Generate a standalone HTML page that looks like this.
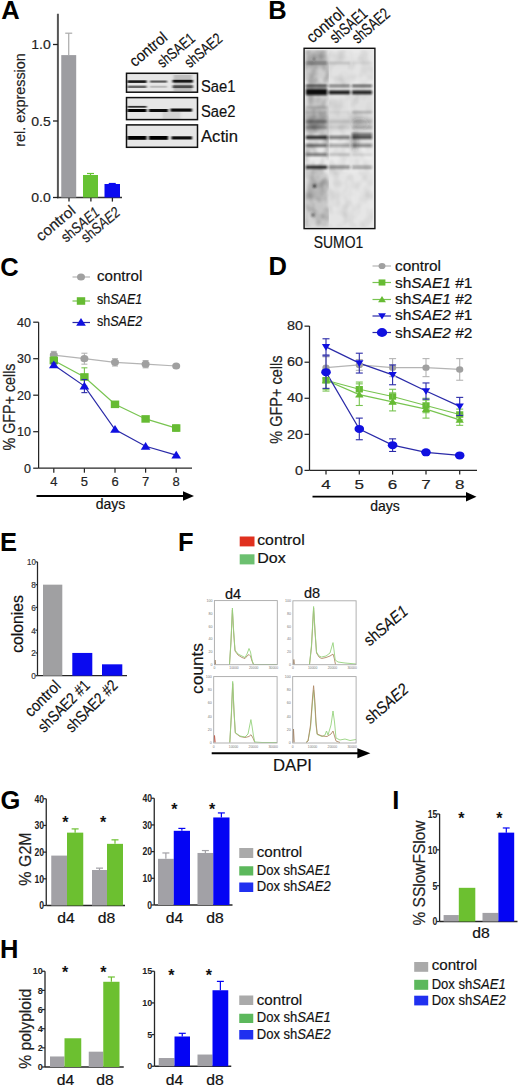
<!DOCTYPE html>
<html><head><meta charset="utf-8"><style>
html,body{margin:0;padding:0;background:#fff;}
body{width:520px;height:1086px;overflow:hidden;}
svg{display:block;font-family:"Liberation Sans", sans-serif;}
</style></head><body>
<svg width="520" height="1086" viewBox="0 0 520 1086">
<defs>
<filter id="blur1" x="-10%" y="-50%" width="120%" height="200%"><feGaussianBlur stdDeviation="1.0 0.55"/></filter>
<filter id="blur2" x="-10%" y="-50%" width="120%" height="200%"><feGaussianBlur stdDeviation="1.3 0.8"/></filter>
<filter id="mottle" x="0" y="0" width="100%" height="100%"><feTurbulence type="fractalNoise" baseFrequency="0.12 0.09" numOctaves="2" seed="3"/><feColorMatrix type="matrix" values="0 0 0 0 0  0 0 0 0 0  0 0 0 0 0  0 0 0 -1.8 1.15"/><feGaussianBlur stdDeviation="1"/></filter>
<filter id="mottle2" x="0" y="0" width="100%" height="100%"><feTurbulence type="fractalNoise" baseFrequency="0.1 0.08" numOctaves="2" seed="7"/><feColorMatrix type="matrix" values="0 0 0 0 0  0 0 0 0 0  0 0 0 0 0  0 0 0 -1.8 1.1"/><feGaussianBlur stdDeviation="1"/></filter>
<filter id="blur3" x="-20%" y="-20%" width="140%" height="140%"><feGaussianBlur stdDeviation="2.2 2.5"/></filter>
</defs>
<rect width="520" height="1086" fill="#fff"/>
<text x="1.2" y="19.3" font-size="25.5" text-anchor="start" font-weight="bold" fill="#000" >A</text>
<line x1="57.9" y1="13.75" x2="57.9" y2="198.2" stroke="#555" stroke-width="2"/>
<line x1="57" y1="197.5" x2="122" y2="197.5" stroke="#333" stroke-width="1.5"/>
<line x1="53" y1="44.5" x2="58" y2="44.5" stroke="#222" stroke-width="1.3"/>
<text x="50.8" y="49.1" font-size="13.5" text-anchor="end" stroke="#222" stroke-width="0.18" fill="#222" textLength="19.5" lengthAdjust="spacingAndGlyphs" >1.0</text>
<line x1="53" y1="121" x2="58" y2="121" stroke="#222" stroke-width="1.3"/>
<text x="50.8" y="125.6" font-size="13.5" text-anchor="end" stroke="#222" stroke-width="0.18" fill="#222" textLength="19.5" lengthAdjust="spacingAndGlyphs" >0.5</text>
<line x1="53" y1="197.5" x2="58" y2="197.5" stroke="#222" stroke-width="1.3"/>
<text x="50.8" y="202.1" font-size="13.5" text-anchor="end" stroke="#222" stroke-width="0.18" fill="#222" textLength="19.5" lengthAdjust="spacingAndGlyphs" >0.0</text>
<line x1="69" y1="197.5" x2="69" y2="201.6" stroke="#222" stroke-width="1.3"/>
<line x1="90.9" y1="197.5" x2="90.9" y2="201.6" stroke="#222" stroke-width="1.3"/>
<line x1="112.4" y1="197.5" x2="112.4" y2="201.6" stroke="#222" stroke-width="1.3"/>
<rect x="61.25" y="55.1" width="14.950000000000003" height="142.4" fill="#9d9da1" />
<line x1="68.725" y1="33.2" x2="68.725" y2="55.1" stroke="#aaa" stroke-width="1.2"/>
<line x1="65.225" y1="33.2" x2="72.225" y2="33.2" stroke="#aaa" stroke-width="1.2"/>
<rect x="83" y="175" width="15" height="22.5" fill="#66c233" />
<line x1="90.5" y1="173.5" x2="90.5" y2="175" stroke="#66c233" stroke-width="1.2"/>
<line x1="87.0" y1="173.5" x2="94.0" y2="173.5" stroke="#66c233" stroke-width="1.2"/>
<rect x="104.5" y="184" width="15.5" height="13.5" fill="#0a0af0" />
<line x1="112.25" y1="183.5" x2="112.25" y2="184" stroke="#0a0af0" stroke-width="1.2"/>
<line x1="108.75" y1="183.5" x2="115.75" y2="183.5" stroke="#0a0af0" stroke-width="1.2"/>
<text x="0" y="0" font-size="14.5" text-anchor="middle" stroke="#222" stroke-width="0.18" fill="#222" textLength="93.7" lengthAdjust="spacingAndGlyphs" transform="translate(24.6,100) rotate(-90)" >rel. expression</text>
<text x="0" y="0" font-size="15" text-anchor="end" stroke="#222" stroke-width="0.18" fill="#222" textLength="46.5" lengthAdjust="spacingAndGlyphs" transform="translate(76.6,212.2) rotate(-40)" >control</text>
<text x="0" y="0" font-size="15" text-anchor="end" stroke="#222" stroke-width="0.18" fill="#222" textLength="45" lengthAdjust="spacingAndGlyphs" transform="translate(100.6,214) rotate(-40)" >sh<tspan font-style="italic">SAE1</tspan></text>
<text x="0" y="0" font-size="15" text-anchor="end" stroke="#222" stroke-width="0.18" fill="#222" textLength="45.5" lengthAdjust="spacingAndGlyphs" transform="translate(121.2,214) rotate(-40)" >sh<tspan font-style="italic">SAE2</tspan></text>
<rect x="126" y="72.6" width="72" height="20.30000000000001" fill="#e6e6e6" />
<rect x="126" y="96.9" width="72" height="23.39999999999999" fill="#e6e6e6" />
<rect x="126" y="124.2" width="72" height="23.799999999999997" fill="#e6e6e6" />
<g filter="url(#blur1)">
<rect x="173.5" y="75" width="18.5" height="16" fill="#666" opacity=".3"/>
<rect x="127.4" y="80.3" width="19.19999999999999" height="2.6" fill="#000" opacity=".9"/>
<rect x="150" y="80.5" width="17" height="2.2" fill="#111" opacity=".65"/>
<rect x="172.5" y="79.8" width="20.5" height="2.8" fill="#000" opacity=".85"/>
<rect x="127.4" y="85.6" width="19.19999999999999" height="2.4" fill="#111" opacity=".6"/>
<rect x="150" y="85.8" width="17" height="2.0" fill="#333" opacity=".25"/>
<rect x="172.5" y="85.3" width="20.5" height="2.8" fill="#111" opacity=".65"/>
<rect x="127.4" y="105.9" width="19.19999999999999" height="1.8" fill="#000" opacity=".8"/>
<rect x="127.4" y="109.0" width="19.19999999999999" height="3.0" fill="#000" opacity="1"/>
<rect x="149" y="109.0" width="19" height="3.0" fill="#000" opacity=".95"/>
<rect x="170.5" y="108.5" width="21.5" height="3.2" fill="#000" opacity=".95"/>
<rect x="162.5" y="112" width="18" height="7" fill="#888" opacity=".2"/>
<rect x="127.4" y="136.0" width="19.19999999999999" height="3.8" fill="#000" opacity="1"/>
<rect x="149" y="136.0" width="19" height="3.8" fill="#000" opacity="1"/>
<rect x="171.5" y="136.3" width="20.5" height="3.2" fill="#000" opacity=".95"/>
</g>
<rect x="126.5" y="73.3" width="71" height="18.900000000000013" fill="none" stroke="#111" stroke-width="1.5"/>
<rect x="126.5" y="97.60000000000001" width="71" height="21.999999999999993" fill="none" stroke="#111" stroke-width="1.5"/>
<rect x="126.5" y="124.9" width="71" height="22.4" fill="none" stroke="#111" stroke-width="1.5"/>
<text x="201" y="91.9" font-size="15.8" text-anchor="start" stroke="#111" stroke-width="0.18" fill="#111" textLength="34.5" lengthAdjust="spacingAndGlyphs" >Sae1</text>
<text x="201" y="117.2" font-size="15.8" text-anchor="start" stroke="#111" stroke-width="0.18" fill="#111" textLength="34.5" lengthAdjust="spacingAndGlyphs" >Sae2</text>
<text x="201" y="141.8" font-size="15.8" text-anchor="start" stroke="#111" stroke-width="0.18" fill="#111" textLength="37" lengthAdjust="spacingAndGlyphs" >Actin</text>
<text x="0" y="0" font-size="15.5" text-anchor="end" stroke="#111" stroke-width="0.18" fill="#111" textLength="44" lengthAdjust="spacingAndGlyphs" transform="translate(168.5,39.2) rotate(-40)" >control</text>
<text x="0" y="0" font-size="15.5" text-anchor="end" stroke="#111" stroke-width="0.18" fill="#111" textLength="44" lengthAdjust="spacingAndGlyphs" transform="translate(196.2,40.2) rotate(-40)" >shSAE1</text>
<text x="0" y="0" font-size="15.5" text-anchor="end" stroke="#111" stroke-width="0.18" fill="#111" textLength="44" lengthAdjust="spacingAndGlyphs" transform="translate(223.5,40.3) rotate(-40)" >shSAE2</text>
<text x="268.2" y="19.2" font-size="25.5" text-anchor="start" font-weight="bold" fill="#000" >B</text>
<rect x="303.4" y="47.6" width="71.2" height="181.7" fill="#ebebeb"/>
<rect x="305" y="50" width="24" height="177" fill="#000" filter="url(#mottle)" opacity="0.3"/>
<rect x="329" y="50" width="44" height="177" fill="#000" filter="url(#mottle2)" opacity="0.13"/>
<g filter="url(#blur3)">
<rect x="305.9" y="53" width="21.30000000000001" height="14" fill="#111" opacity="0.28"/>
<rect x="328.8" y="53" width="21.19999999999999" height="14" fill="#111" opacity="0.05"/>
<rect x="352" y="53" width="20" height="14" fill="#111" opacity="0.03"/>
<rect x="305.9" y="67" width="21.30000000000001" height="14" fill="#111" opacity="0.12"/>
<rect x="328.8" y="67" width="21.19999999999999" height="14" fill="#111" opacity="0.04"/>
<rect x="352" y="67" width="20" height="14" fill="#111" opacity="0.03"/>
<rect x="305.9" y="98" width="21.30000000000001" height="35" fill="#111" opacity="0.16"/>
<rect x="328.8" y="98" width="21.19999999999999" height="35" fill="#111" opacity="0.05"/>
<rect x="352" y="98" width="20" height="35" fill="#111" opacity="0.05"/>
<rect x="305.9" y="117" width="21.30000000000001" height="12" fill="#111" opacity="0.2"/>
<rect x="328.8" y="117" width="21.19999999999999" height="12" fill="#111" opacity="0.06"/>
<rect x="352" y="117" width="20" height="12" fill="#111" opacity="0.1"/>
<rect x="305.9" y="172" width="21.30000000000001" height="55" fill="#111" opacity="0.1"/>
<rect x="328.8" y="172" width="21.19999999999999" height="55" fill="#111" opacity="0.03"/>
<rect x="352" y="172" width="20" height="55" fill="#111" opacity="0.02"/>
<rect x="305.9" y="180" width="21.30000000000001" height="18" fill="#111" opacity="0.08"/>
<rect x="305.9" y="198" width="21.30000000000001" height="16" fill="#111" opacity="0.06"/>
<ellipse cx="355" cy="142" rx="3" ry="10" fill="#222" opacity=".35"/>
<ellipse cx="360" cy="124" rx="8" ry="5" fill="#444" opacity=".15"/>
</g>
<g filter="url(#blur2)">
<rect x="305.9" y="61.8" width="21.30000000000001" height="2.5" fill="#111" opacity="0.4"/>
<rect x="328.8" y="61.8" width="21.19999999999999" height="2.5" fill="#111" opacity="0.15"/>
<rect x="352" y="61.8" width="20" height="2.5" fill="#111" opacity="0.06"/>
<rect x="305.9" y="84.8" width="21.30000000000001" height="2.2" fill="#111" opacity="0.85"/>
<rect x="328.8" y="84.8" width="21.19999999999999" height="2.2" fill="#111" opacity="0.6"/>
<rect x="352" y="84.8" width="20" height="2.2" fill="#111" opacity="0.75"/>
<rect x="305.9" y="88.8" width="21.30000000000001" height="6.4" fill="#111" opacity="1.0"/>
<rect x="328.8" y="90.6" width="21.19999999999999" height="3.6" fill="#111" opacity="1.0"/>
<rect x="352" y="90.6" width="20" height="3.6" fill="#111" opacity="0.95"/>
<rect x="305.9" y="106" width="21.30000000000001" height="3" fill="#111" opacity="0.15"/>
<rect x="305.9" y="111" width="21.30000000000001" height="2.5" fill="#111" opacity="0.08"/>
<rect x="328.8" y="111" width="21.19999999999999" height="2.5" fill="#111" opacity="0.05"/>
<rect x="352" y="111" width="20" height="2.5" fill="#111" opacity="0.22"/>
<rect x="305.9" y="120" width="21.30000000000001" height="3" fill="#111" opacity="0.3"/>
<rect x="328.8" y="120" width="21.19999999999999" height="3" fill="#111" opacity="0.1"/>
<rect x="352" y="120" width="20" height="3" fill="#111" opacity="0.12"/>
<rect x="305.9" y="126" width="21.30000000000001" height="3" fill="#111" opacity="0.22"/>
<rect x="328.8" y="126" width="21.19999999999999" height="3" fill="#111" opacity="0.06"/>
<rect x="352" y="126" width="20" height="3" fill="#111" opacity="0.16"/>
<rect x="352" y="133" width="20" height="2.5" fill="#111" opacity="0.6"/>
<rect x="305.9" y="135.8" width="21.30000000000001" height="3.2" fill="#111" opacity="0.9"/>
<rect x="328.8" y="135.8" width="21.19999999999999" height="3.2" fill="#111" opacity="0.55"/>
<rect x="352" y="135.8" width="20" height="3.2" fill="#111" opacity="0.75"/>
<rect x="305.9" y="144" width="21.30000000000001" height="3" fill="#111" opacity="0.6"/>
<rect x="328.8" y="144" width="21.19999999999999" height="3" fill="#111" opacity="0.35"/>
<rect x="352" y="144" width="20" height="3" fill="#111" opacity="0.45"/>
<rect x="305.9" y="153.2" width="21.30000000000001" height="2.8" fill="#111" opacity="0.55"/>
<rect x="328.8" y="153.2" width="21.19999999999999" height="2.8" fill="#111" opacity="0.18"/>
<rect x="352" y="153.2" width="20" height="2.8" fill="#111" opacity="0.1"/>
<rect x="305.9" y="165.6" width="21.30000000000001" height="3.2" fill="#111" opacity="0.9"/>
<rect x="328.8" y="165.6" width="21.19999999999999" height="3.2" fill="#111" opacity="0.45"/>
<rect x="352" y="165.6" width="20" height="3.2" fill="#111" opacity="0.35"/>
<circle cx="314.5" cy="186" r="1.5" fill="#222"/>
<circle cx="313" cy="215" r="1.8" fill="#333" opacity=".7"/>
<circle cx="314" cy="59" r="1.3" fill="#333" opacity=".6"/>
</g>
<rect x="304.1" y="48.3" width="70.8" height="180.3" fill="none" stroke="#111" stroke-width="1.4"/>
<text x="338.5" y="248" font-size="16.5" text-anchor="middle" stroke="#111" stroke-width="0.18" fill="#111" textLength="49.5" lengthAdjust="spacingAndGlyphs" >SUMO1</text>
<text x="0" y="0" font-size="16.5" text-anchor="end" stroke="#111" stroke-width="0.18" fill="#111" textLength="44" lengthAdjust="spacingAndGlyphs" transform="translate(345.5,15) rotate(-41)" >control</text>
<text x="0" y="0" font-size="16.5" text-anchor="end" stroke="#111" stroke-width="0.18" fill="#111" textLength="44" lengthAdjust="spacingAndGlyphs" transform="translate(368.7,15.2) rotate(-41)" >shSAE1</text>
<text x="0" y="0" font-size="16.5" text-anchor="end" stroke="#111" stroke-width="0.18" fill="#111" textLength="44" lengthAdjust="spacingAndGlyphs" transform="translate(391,15.5) rotate(-41)" >shSAE2</text>
<text x="0.3" y="275.5" font-size="25.5" text-anchor="start" font-weight="bold" fill="#000" >C</text>
<line x1="72.5" y1="277" x2="90" y2="277" stroke="#b4b4b4" stroke-width="1.2"/>
<ellipse cx="81" cy="277" rx="4" ry="3.6" fill="#a0a0a0"/>
<line x1="72.5" y1="301" x2="90" y2="301" stroke="#78c450" stroke-width="1.2"/>
<rect x="76.8" y="297.22" width="8.4" height="7.5600000000000005" fill="#66bb33" />
<line x1="72.5" y1="322.5" x2="90" y2="322.5" stroke="#2a2aa8" stroke-width="1.2"/>
<polygon points="76.17,325.86 85.83,325.86 81,318.09" fill="#1010e0"/>
<text x="97" y="281.2" font-size="14.5" text-anchor="start" stroke="#111" stroke-width="0.18" fill="#111" textLength="45.3" lengthAdjust="spacingAndGlyphs" >control</text>
<text x="97" y="303.6" font-size="14.5" text-anchor="start" stroke="#111" stroke-width="0.18" fill="#111" textLength="45.3" lengthAdjust="spacingAndGlyphs" >sh<tspan font-style="italic">SAE1</tspan></text>
<text x="97" y="325.6" font-size="14.5" text-anchor="start" stroke="#111" stroke-width="0.18" fill="#111" textLength="45.3" lengthAdjust="spacingAndGlyphs" >sh<tspan font-style="italic">SAE2</tspan></text>
<line x1="38.6" y1="322.2" x2="38.6" y2="468.2" stroke="#262626" stroke-width="1.25"/>
<line x1="38.6" y1="468.2" x2="192" y2="468.2" stroke="#262626" stroke-width="1.25"/>
<line x1="33.2" y1="468.2" x2="38.6" y2="468.2" stroke="#262626" stroke-width="1.25"/>
<text x="31" y="472.5" font-size="12.5" text-anchor="end" stroke="#222" stroke-width="0.18" fill="#222" >0</text>
<line x1="33.2" y1="431.7" x2="38.6" y2="431.7" stroke="#262626" stroke-width="1.25"/>
<text x="31" y="436.0" font-size="12.5" text-anchor="end" stroke="#222" stroke-width="0.18" fill="#222" >10</text>
<line x1="33.2" y1="395.2" x2="38.6" y2="395.2" stroke="#262626" stroke-width="1.25"/>
<text x="31" y="399.5" font-size="12.5" text-anchor="end" stroke="#222" stroke-width="0.18" fill="#222" >20</text>
<line x1="33.2" y1="358.7" x2="38.6" y2="358.7" stroke="#262626" stroke-width="1.25"/>
<text x="31" y="363.0" font-size="12.5" text-anchor="end" stroke="#222" stroke-width="0.18" fill="#222" >30</text>
<line x1="33.2" y1="322.2" x2="38.6" y2="322.2" stroke="#262626" stroke-width="1.25"/>
<text x="31" y="326.5" font-size="12.5" text-anchor="end" stroke="#222" stroke-width="0.18" fill="#222" >40</text>
<line x1="53.8" y1="468.2" x2="53.8" y2="472.7" stroke="#262626" stroke-width="1.25"/>
<text x="53.8" y="485.7" font-size="13" text-anchor="middle" stroke="#222" stroke-width="0.18" fill="#222" >4</text>
<line x1="84.4" y1="468.2" x2="84.4" y2="472.7" stroke="#262626" stroke-width="1.25"/>
<text x="84.4" y="485.7" font-size="13" text-anchor="middle" stroke="#222" stroke-width="0.18" fill="#222" >5</text>
<line x1="115" y1="468.2" x2="115" y2="472.7" stroke="#262626" stroke-width="1.25"/>
<text x="115" y="485.7" font-size="13" text-anchor="middle" stroke="#222" stroke-width="0.18" fill="#222" >6</text>
<line x1="145.6" y1="468.2" x2="145.6" y2="472.7" stroke="#262626" stroke-width="1.25"/>
<text x="145.6" y="485.7" font-size="13" text-anchor="middle" stroke="#222" stroke-width="0.18" fill="#222" >7</text>
<line x1="176.2" y1="468.2" x2="176.2" y2="472.7" stroke="#262626" stroke-width="1.25"/>
<text x="176.2" y="485.7" font-size="13" text-anchor="middle" stroke="#222" stroke-width="0.18" fill="#222" >8</text>
<line x1="36.5" y1="496" x2="184" y2="496" stroke="#000" stroke-width="1.8"/>
<polygon points="183,491.2 194,496 183,500.8" fill="#000"/>
<text x="110.5" y="509" font-size="14" text-anchor="middle" stroke="#111" stroke-width="0.18" fill="#111" >days</text>
<text x="0" y="0" font-size="14.3" text-anchor="middle" stroke="#222" stroke-width="0.18" fill="#222" textLength="87" lengthAdjust="spacingAndGlyphs" transform="translate(14.7,407) scale(1.12,1) rotate(-90)" >% GFP+ cells</text>
<polyline points="53.8,355.05 84.4,358.70 115,362.35 145.6,364.18 176.2,366.00" fill="none" stroke="#b4b4b4" stroke-width="1.2"/>
<polyline points="53.8,360.52 84.4,376.95 115,404.32 145.6,418.93 176.2,428.05" fill="none" stroke="#78c450" stroke-width="1.2"/>
<polyline points="53.8,364.90 84.4,386.07 115,429.51 145.6,446.30 176.2,455.06" fill="none" stroke="#2a2aa8" stroke-width="1.2"/>
<line x1="53.8" y1="351.40000000000003" x2="53.8" y2="358.7" stroke="#b4b4b4" stroke-width="1.1"/>
<line x1="50.8" y1="351.40000000000003" x2="56.8" y2="351.40000000000003" stroke="#b4b4b4" stroke-width="1.1"/>
<line x1="50.8" y1="358.7" x2="56.8" y2="358.7" stroke="#b4b4b4" stroke-width="1.1"/>
<ellipse cx="53.8" cy="355.05" rx="4" ry="3.6" fill="#a0a0a0"/>
<line x1="84.4" y1="353.22499999999997" x2="84.4" y2="364.175" stroke="#b4b4b4" stroke-width="1.1"/>
<line x1="81.4" y1="353.22499999999997" x2="87.4" y2="353.22499999999997" stroke="#b4b4b4" stroke-width="1.1"/>
<line x1="81.4" y1="364.175" x2="87.4" y2="364.175" stroke="#b4b4b4" stroke-width="1.1"/>
<ellipse cx="84.4" cy="358.7" rx="4" ry="3.6" fill="#a0a0a0"/>
<line x1="115" y1="358.70000000000005" x2="115" y2="366.0" stroke="#b4b4b4" stroke-width="1.1"/>
<line x1="112" y1="358.70000000000005" x2="118" y2="358.70000000000005" stroke="#b4b4b4" stroke-width="1.1"/>
<line x1="112" y1="366.0" x2="118" y2="366.0" stroke="#b4b4b4" stroke-width="1.1"/>
<ellipse cx="115" cy="362.35" rx="4" ry="3.6" fill="#a0a0a0"/>
<line x1="145.6" y1="360.52500000000003" x2="145.6" y2="367.825" stroke="#b4b4b4" stroke-width="1.1"/>
<line x1="142.6" y1="360.52500000000003" x2="148.6" y2="360.52500000000003" stroke="#b4b4b4" stroke-width="1.1"/>
<line x1="142.6" y1="367.825" x2="148.6" y2="367.825" stroke="#b4b4b4" stroke-width="1.1"/>
<ellipse cx="145.6" cy="364.175" rx="4" ry="3.6" fill="#a0a0a0"/>
<ellipse cx="176.2" cy="366.0" rx="4" ry="3.6" fill="#a0a0a0"/>
<line x1="53.8" y1="356.875" x2="53.8" y2="364.17499999999995" stroke="#78c450" stroke-width="1.1"/>
<line x1="50.8" y1="356.875" x2="56.8" y2="356.875" stroke="#78c450" stroke-width="1.1"/>
<line x1="50.8" y1="364.17499999999995" x2="56.8" y2="364.17499999999995" stroke="#78c450" stroke-width="1.1"/>
<rect x="49.599999999999994" y="356.745" width="8.4" height="7.5600000000000005" fill="#66bb33" />
<line x1="84.4" y1="367.825" x2="84.4" y2="386.075" stroke="#78c450" stroke-width="1.1"/>
<line x1="81.4" y1="367.825" x2="87.4" y2="367.825" stroke="#78c450" stroke-width="1.1"/>
<line x1="81.4" y1="386.075" x2="87.4" y2="386.075" stroke="#78c450" stroke-width="1.1"/>
<rect x="80.2" y="373.17" width="8.4" height="7.5600000000000005" fill="#66bb33" />
<rect x="110.8" y="400.545" width="8.4" height="7.5600000000000005" fill="#66bb33" />
<rect x="141.4" y="415.14500000000004" width="8.4" height="7.5600000000000005" fill="#66bb33" />
<line x1="176.2" y1="425.13" x2="176.2" y2="430.97" stroke="#78c450" stroke-width="1.1"/>
<line x1="173.2" y1="425.13" x2="179.2" y2="425.13" stroke="#78c450" stroke-width="1.1"/>
<line x1="173.2" y1="430.97" x2="179.2" y2="430.97" stroke="#78c450" stroke-width="1.1"/>
<rect x="172.0" y="424.27000000000004" width="8.4" height="7.5600000000000005" fill="#66bb33" />
<line x1="53.8" y1="363.08" x2="53.8" y2="366.72999999999996" stroke="#2a2aa8" stroke-width="1.1"/>
<line x1="50.8" y1="363.08" x2="56.8" y2="363.08" stroke="#2a2aa8" stroke-width="1.1"/>
<line x1="50.8" y1="366.72999999999996" x2="56.8" y2="366.72999999999996" stroke="#2a2aa8" stroke-width="1.1"/>
<polygon points="48.97,368.265 58.629999999999995,368.265 53.8,360.49499999999995" fill="#1010e0"/>
<line x1="84.4" y1="379.505" x2="84.4" y2="392.645" stroke="#2a2aa8" stroke-width="1.1"/>
<line x1="81.4" y1="379.505" x2="87.4" y2="379.505" stroke="#2a2aa8" stroke-width="1.1"/>
<line x1="81.4" y1="392.645" x2="87.4" y2="392.645" stroke="#2a2aa8" stroke-width="1.1"/>
<polygon points="79.57000000000001,389.435 89.23,389.435 84.4,381.66499999999996" fill="#1010e0"/>
<polygon points="110.17,432.87 119.83,432.87 115,425.09999999999997" fill="#1010e0"/>
<polygon points="140.76999999999998,449.66 150.43,449.66 145.6,441.89" fill="#1010e0"/>
<polygon points="171.36999999999998,458.42 181.03,458.42 176.2,450.65" fill="#1010e0"/>
<text x="268.6" y="275" font-size="25.5" text-anchor="start" font-weight="bold" fill="#000" >D</text>
<line x1="372.5" y1="266" x2="391" y2="266" stroke="#b4b4b4" stroke-width="1.2"/>
<ellipse cx="382" cy="266" rx="3.5" ry="3.1" fill="#a0a0a0"/>
<text x="395" y="270.5" font-size="14.5" text-anchor="start" stroke="#111" stroke-width="0.18" fill="#111" textLength="46" lengthAdjust="spacingAndGlyphs" >control</text>
<line x1="372.5" y1="282.5" x2="391" y2="282.5" stroke="#78c450" stroke-width="1.2"/>
<rect x="378.6" y="279.44" width="6.8" height="6.12" fill="#66bb33" />
<text x="395" y="287.5" font-size="14.5" text-anchor="start" stroke="#111" stroke-width="0.18" fill="#111" textLength="77.5" lengthAdjust="spacingAndGlyphs" >sh<tspan font-style="italic">SAE1</tspan> #1</text>
<line x1="372.5" y1="299.5" x2="391" y2="299.5" stroke="#78c450" stroke-width="1.2"/>
<polygon points="378.09,302.22 385.91,302.22 382,295.93" fill="#66bb33"/>
<text x="395" y="303.8" font-size="14.5" text-anchor="start" stroke="#111" stroke-width="0.18" fill="#111" textLength="77.5" lengthAdjust="spacingAndGlyphs" >sh<tspan font-style="italic">SAE1</tspan> #2</text>
<line x1="372.5" y1="316" x2="391" y2="316" stroke="#2a2aa8" stroke-width="1.2"/>
<polygon points="378.09,313.28 385.91,313.28 382,319.57" fill="#1010e0"/>
<text x="395" y="320.2" font-size="14.5" text-anchor="start" stroke="#111" stroke-width="0.18" fill="#111" textLength="77.5" lengthAdjust="spacingAndGlyphs" >sh<tspan font-style="italic">SAE2</tspan> #1</text>
<line x1="372.5" y1="332.5" x2="391" y2="332.5" stroke="#2a2aa8" stroke-width="1.2"/>
<ellipse cx="382" cy="332.5" rx="5.2" ry="4.4" fill="#1010e0"/>
<text x="395" y="337.5" font-size="14.5" text-anchor="start" stroke="#111" stroke-width="0.18" fill="#111" textLength="77.5" lengthAdjust="spacingAndGlyphs" >sh<tspan font-style="italic">SAE2</tspan> #2</text>
<line x1="309.5" y1="326" x2="309.5" y2="470.4" stroke="#262626" stroke-width="1.25"/>
<line x1="309.5" y1="470.4" x2="477" y2="470.4" stroke="#262626" stroke-width="1.25"/>
<line x1="304.5" y1="470.4" x2="309.5" y2="470.4" stroke="#262626" stroke-width="1.25"/>
<text x="303" y="474.59999999999997" font-size="12" text-anchor="end" stroke="#222" stroke-width="0.18" fill="#222" textLength="8" lengthAdjust="spacingAndGlyphs" >0</text>
<line x1="304.5" y1="434.34" x2="309.5" y2="434.34" stroke="#262626" stroke-width="1.25"/>
<text x="303" y="438.53999999999996" font-size="12" text-anchor="end" stroke="#222" stroke-width="0.18" fill="#222" textLength="16" lengthAdjust="spacingAndGlyphs" >20</text>
<line x1="304.5" y1="398.28" x2="309.5" y2="398.28" stroke="#262626" stroke-width="1.25"/>
<text x="303" y="402.47999999999996" font-size="12" text-anchor="end" stroke="#222" stroke-width="0.18" fill="#222" textLength="16" lengthAdjust="spacingAndGlyphs" >40</text>
<line x1="304.5" y1="362.21999999999997" x2="309.5" y2="362.21999999999997" stroke="#262626" stroke-width="1.25"/>
<text x="303" y="366.41999999999996" font-size="12" text-anchor="end" stroke="#222" stroke-width="0.18" fill="#222" textLength="16" lengthAdjust="spacingAndGlyphs" >60</text>
<line x1="304.5" y1="326.15999999999997" x2="309.5" y2="326.15999999999997" stroke="#262626" stroke-width="1.25"/>
<text x="303" y="330.35999999999996" font-size="12" text-anchor="end" stroke="#222" stroke-width="0.18" fill="#222" textLength="16" lengthAdjust="spacingAndGlyphs" >80</text>
<line x1="326" y1="470.4" x2="326" y2="474.59999999999997" stroke="#262626" stroke-width="1.25"/>
<text x="326" y="488.5" font-size="13.3" text-anchor="middle" stroke="#222" stroke-width="0.18" fill="#222" textLength="9.5" lengthAdjust="spacingAndGlyphs" >4</text>
<line x1="359.3" y1="470.4" x2="359.3" y2="474.59999999999997" stroke="#262626" stroke-width="1.25"/>
<text x="359.3" y="488.5" font-size="13.3" text-anchor="middle" stroke="#222" stroke-width="0.18" fill="#222" textLength="9.5" lengthAdjust="spacingAndGlyphs" >5</text>
<line x1="392.6" y1="470.4" x2="392.6" y2="474.59999999999997" stroke="#262626" stroke-width="1.25"/>
<text x="392.6" y="488.5" font-size="13.3" text-anchor="middle" stroke="#222" stroke-width="0.18" fill="#222" textLength="9.5" lengthAdjust="spacingAndGlyphs" >6</text>
<line x1="426" y1="470.4" x2="426" y2="474.59999999999997" stroke="#262626" stroke-width="1.25"/>
<text x="426" y="488.5" font-size="13.3" text-anchor="middle" stroke="#222" stroke-width="0.18" fill="#222" textLength="9.5" lengthAdjust="spacingAndGlyphs" >7</text>
<line x1="459.7" y1="470.4" x2="459.7" y2="474.59999999999997" stroke="#262626" stroke-width="1.25"/>
<text x="459.7" y="488.5" font-size="13.3" text-anchor="middle" stroke="#222" stroke-width="0.18" fill="#222" textLength="9.5" lengthAdjust="spacingAndGlyphs" >8</text>
<line x1="312.5" y1="496.7" x2="467.0" y2="496.7" stroke="#000" stroke-width="1.8"/>
<polygon points="466.0,491.9 476.5,496.7 466.0,501.5" fill="#000"/>
<text x="385" y="511" font-size="14" text-anchor="middle" stroke="#111" stroke-width="0.18" fill="#111" >days</text>
<text x="0" y="0" font-size="14.5" text-anchor="middle" stroke="#222" stroke-width="0.18" fill="#222" textLength="88.2" lengthAdjust="spacingAndGlyphs" transform="translate(282,399.6) scale(1.08,1) rotate(-90)" >% GFP+ cells</text>
<polyline points="326,367.63 359.3,364.92 392.6,367.63 426,367.63 459.7,369.43" fill="none" stroke="#b4b4b4" stroke-width="1.2"/>
<polyline points="326,380.25 359.3,389.26 392.6,396.48 426,405.49 459.7,414.51" fill="none" stroke="#78c450" stroke-width="1.2"/>
<polyline points="326,380.25 359.3,394.67 392.6,401.89 426,409.10 459.7,419.92" fill="none" stroke="#78c450" stroke-width="1.2"/>
<polyline points="326,346.89 359.3,363.12 392.6,374.84 426,391.07 459.7,406.39" fill="none" stroke="#2a2aa8" stroke-width="1.2"/>
<polyline points="326,372.14 359.3,428.93 392.6,445.16 426,452.37 459.7,455.44" fill="none" stroke="#2a2aa8" stroke-width="1.2"/>
<line x1="326" y1="356.811" x2="326" y2="378.44699999999995" stroke="#b4b4b4" stroke-width="1.1"/>
<line x1="322.5" y1="356.811" x2="329.5" y2="356.811" stroke="#b4b4b4" stroke-width="1.1"/>
<line x1="322.5" y1="378.44699999999995" x2="329.5" y2="378.44699999999995" stroke="#b4b4b4" stroke-width="1.1"/>
<ellipse cx="326" cy="367.62899999999996" rx="3.6" ry="3.2" fill="#a0a0a0"/>
<line x1="359.3" y1="359.5155" x2="359.3" y2="370.33349999999996" stroke="#b4b4b4" stroke-width="1.1"/>
<line x1="355.8" y1="359.5155" x2="362.8" y2="359.5155" stroke="#b4b4b4" stroke-width="1.1"/>
<line x1="355.8" y1="370.33349999999996" x2="362.8" y2="370.33349999999996" stroke="#b4b4b4" stroke-width="1.1"/>
<ellipse cx="359.3" cy="364.92449999999997" rx="3.6" ry="3.2" fill="#a0a0a0"/>
<line x1="392.6" y1="358.614" x2="392.6" y2="376.64399999999995" stroke="#b4b4b4" stroke-width="1.1"/>
<line x1="389.1" y1="358.614" x2="396.1" y2="358.614" stroke="#b4b4b4" stroke-width="1.1"/>
<line x1="389.1" y1="376.64399999999995" x2="396.1" y2="376.64399999999995" stroke="#b4b4b4" stroke-width="1.1"/>
<ellipse cx="392.6" cy="367.62899999999996" rx="3.6" ry="3.2" fill="#a0a0a0"/>
<line x1="426" y1="358.614" x2="426" y2="376.64399999999995" stroke="#b4b4b4" stroke-width="1.1"/>
<line x1="422.5" y1="358.614" x2="429.5" y2="358.614" stroke="#b4b4b4" stroke-width="1.1"/>
<line x1="422.5" y1="376.64399999999995" x2="429.5" y2="376.64399999999995" stroke="#b4b4b4" stroke-width="1.1"/>
<ellipse cx="426" cy="367.62899999999996" rx="3.6" ry="3.2" fill="#a0a0a0"/>
<line x1="459.7" y1="358.61400000000003" x2="459.7" y2="380.25" stroke="#b4b4b4" stroke-width="1.1"/>
<line x1="456.2" y1="358.61400000000003" x2="463.2" y2="358.61400000000003" stroke="#b4b4b4" stroke-width="1.1"/>
<line x1="456.2" y1="380.25" x2="463.2" y2="380.25" stroke="#b4b4b4" stroke-width="1.1"/>
<ellipse cx="459.7" cy="369.432" rx="3.6" ry="3.2" fill="#a0a0a0"/>
<line x1="326" y1="371.235" x2="326" y2="389.265" stroke="#78c450" stroke-width="1.1"/>
<line x1="322.5" y1="371.235" x2="329.5" y2="371.235" stroke="#78c450" stroke-width="1.1"/>
<line x1="322.5" y1="389.265" x2="329.5" y2="389.265" stroke="#78c450" stroke-width="1.1"/>
<rect x="322.4" y="377.01" width="7.2" height="6.48" fill="#66bb33" />
<line x1="359.3" y1="382.053" x2="359.3" y2="396.477" stroke="#78c450" stroke-width="1.1"/>
<line x1="355.8" y1="382.053" x2="362.8" y2="382.053" stroke="#78c450" stroke-width="1.1"/>
<line x1="355.8" y1="396.477" x2="362.8" y2="396.477" stroke="#78c450" stroke-width="1.1"/>
<rect x="355.7" y="386.025" width="7.2" height="6.48" fill="#66bb33" />
<line x1="392.6" y1="389.265" x2="392.6" y2="403.68899999999996" stroke="#78c450" stroke-width="1.1"/>
<line x1="389.1" y1="389.265" x2="396.1" y2="389.265" stroke="#78c450" stroke-width="1.1"/>
<line x1="389.1" y1="403.68899999999996" x2="396.1" y2="403.68899999999996" stroke="#78c450" stroke-width="1.1"/>
<rect x="389.0" y="393.23699999999997" width="7.2" height="6.48" fill="#66bb33" />
<line x1="426" y1="398.28" x2="426" y2="412.70399999999995" stroke="#78c450" stroke-width="1.1"/>
<line x1="422.5" y1="398.28" x2="429.5" y2="398.28" stroke="#78c450" stroke-width="1.1"/>
<line x1="422.5" y1="412.70399999999995" x2="429.5" y2="412.70399999999995" stroke="#78c450" stroke-width="1.1"/>
<rect x="422.4" y="402.25199999999995" width="7.2" height="6.48" fill="#66bb33" />
<line x1="459.7" y1="409.09799999999996" x2="459.7" y2="419.91599999999994" stroke="#78c450" stroke-width="1.1"/>
<line x1="456.2" y1="409.09799999999996" x2="463.2" y2="409.09799999999996" stroke="#78c450" stroke-width="1.1"/>
<line x1="456.2" y1="419.91599999999994" x2="463.2" y2="419.91599999999994" stroke="#78c450" stroke-width="1.1"/>
<rect x="456.09999999999997" y="411.26699999999994" width="7.2" height="6.48" fill="#66bb33" />
<line x1="326" y1="369.432" x2="326" y2="391.068" stroke="#78c450" stroke-width="1.1"/>
<line x1="322.5" y1="369.432" x2="329.5" y2="369.432" stroke="#78c450" stroke-width="1.1"/>
<line x1="322.5" y1="391.068" x2="329.5" y2="391.068" stroke="#78c450" stroke-width="1.1"/>
<polygon points="321.86,383.13 330.14,383.13 326,376.47" fill="#66bb33"/>
<line x1="359.3" y1="383.856" x2="359.3" y2="405.49199999999996" stroke="#78c450" stroke-width="1.1"/>
<line x1="355.8" y1="383.856" x2="362.8" y2="383.856" stroke="#78c450" stroke-width="1.1"/>
<line x1="355.8" y1="405.49199999999996" x2="362.8" y2="405.49199999999996" stroke="#78c450" stroke-width="1.1"/>
<polygon points="355.16,397.554 363.44,397.554 359.3,390.894" fill="#66bb33"/>
<line x1="392.6" y1="392.871" x2="392.6" y2="410.90099999999995" stroke="#78c450" stroke-width="1.1"/>
<line x1="389.1" y1="392.871" x2="396.1" y2="392.871" stroke="#78c450" stroke-width="1.1"/>
<line x1="389.1" y1="410.90099999999995" x2="396.1" y2="410.90099999999995" stroke="#78c450" stroke-width="1.1"/>
<polygon points="388.46000000000004,404.76599999999996 396.74,404.76599999999996 392.6,398.106" fill="#66bb33"/>
<line x1="426" y1="400.08299999999997" x2="426" y2="418.11299999999994" stroke="#78c450" stroke-width="1.1"/>
<line x1="422.5" y1="400.08299999999997" x2="429.5" y2="400.08299999999997" stroke="#78c450" stroke-width="1.1"/>
<line x1="422.5" y1="418.11299999999994" x2="429.5" y2="418.11299999999994" stroke="#78c450" stroke-width="1.1"/>
<polygon points="421.86,411.97799999999995 430.14,411.97799999999995 426,405.318" fill="#66bb33"/>
<line x1="459.7" y1="414.507" x2="459.7" y2="425.325" stroke="#78c450" stroke-width="1.1"/>
<line x1="456.2" y1="414.507" x2="463.2" y2="414.507" stroke="#78c450" stroke-width="1.1"/>
<line x1="456.2" y1="425.325" x2="463.2" y2="425.325" stroke="#78c450" stroke-width="1.1"/>
<polygon points="455.56,422.796 463.84,422.796 459.7,416.136" fill="#66bb33"/>
<line x1="326" y1="338.781" x2="326" y2="355.008" stroke="#2a2aa8" stroke-width="1.1"/>
<line x1="322.5" y1="338.781" x2="329.5" y2="338.781" stroke="#2a2aa8" stroke-width="1.1"/>
<line x1="322.5" y1="355.008" x2="329.5" y2="355.008" stroke="#2a2aa8" stroke-width="1.1"/>
<polygon points="321.86,344.0145 330.14,344.0145 326,350.67449999999997" fill="#1010e0"/>
<line x1="359.3" y1="353.205" x2="359.3" y2="373.03799999999995" stroke="#2a2aa8" stroke-width="1.1"/>
<line x1="355.8" y1="353.205" x2="362.8" y2="353.205" stroke="#2a2aa8" stroke-width="1.1"/>
<line x1="355.8" y1="373.03799999999995" x2="362.8" y2="373.03799999999995" stroke="#2a2aa8" stroke-width="1.1"/>
<polygon points="355.16,360.2415 363.44,360.2415 359.3,366.90149999999994" fill="#1010e0"/>
<line x1="392.6" y1="364.9245" x2="392.6" y2="384.7575" stroke="#2a2aa8" stroke-width="1.1"/>
<line x1="389.1" y1="364.9245" x2="396.1" y2="364.9245" stroke="#2a2aa8" stroke-width="1.1"/>
<line x1="389.1" y1="384.7575" x2="396.1" y2="384.7575" stroke="#2a2aa8" stroke-width="1.1"/>
<polygon points="388.46000000000004,371.961 396.74,371.961 392.6,378.621" fill="#1010e0"/>
<line x1="426" y1="382.9545" x2="426" y2="399.18149999999997" stroke="#2a2aa8" stroke-width="1.1"/>
<line x1="422.5" y1="382.9545" x2="429.5" y2="382.9545" stroke="#2a2aa8" stroke-width="1.1"/>
<line x1="422.5" y1="399.18149999999997" x2="429.5" y2="399.18149999999997" stroke="#2a2aa8" stroke-width="1.1"/>
<polygon points="421.86,388.188 430.14,388.188 426,394.84799999999996" fill="#1010e0"/>
<line x1="459.7" y1="397.3785" x2="459.7" y2="415.40849999999995" stroke="#2a2aa8" stroke-width="1.1"/>
<line x1="456.2" y1="397.3785" x2="463.2" y2="397.3785" stroke="#2a2aa8" stroke-width="1.1"/>
<line x1="456.2" y1="415.40849999999995" x2="463.2" y2="415.40849999999995" stroke="#2a2aa8" stroke-width="1.1"/>
<polygon points="455.56,403.51349999999996 463.84,403.51349999999996 459.7,410.17349999999993" fill="#1010e0"/>
<line x1="326" y1="355.9095" x2="326" y2="388.36349999999993" stroke="#2a2aa8" stroke-width="1.1"/>
<line x1="322.5" y1="355.9095" x2="329.5" y2="355.9095" stroke="#2a2aa8" stroke-width="1.1"/>
<line x1="322.5" y1="388.36349999999993" x2="329.5" y2="388.36349999999993" stroke="#2a2aa8" stroke-width="1.1"/>
<ellipse cx="326" cy="372.13649999999996" rx="4.8" ry="4.0" fill="#1010e0"/>
<line x1="359.3" y1="418.113" x2="359.3" y2="439.74899999999997" stroke="#2a2aa8" stroke-width="1.1"/>
<line x1="355.8" y1="418.113" x2="362.8" y2="418.113" stroke="#2a2aa8" stroke-width="1.1"/>
<line x1="355.8" y1="439.74899999999997" x2="362.8" y2="439.74899999999997" stroke="#2a2aa8" stroke-width="1.1"/>
<ellipse cx="359.3" cy="428.931" rx="4.8" ry="4.0" fill="#1010e0"/>
<line x1="392.6" y1="438.84749999999997" x2="392.6" y2="451.46849999999995" stroke="#2a2aa8" stroke-width="1.1"/>
<line x1="389.1" y1="438.84749999999997" x2="396.1" y2="438.84749999999997" stroke="#2a2aa8" stroke-width="1.1"/>
<line x1="389.1" y1="451.46849999999995" x2="396.1" y2="451.46849999999995" stroke="#2a2aa8" stroke-width="1.1"/>
<ellipse cx="392.6" cy="445.15799999999996" rx="4.8" ry="4.0" fill="#1010e0"/>
<line x1="426" y1="450.567" x2="426" y2="454.173" stroke="#2a2aa8" stroke-width="1.1"/>
<line x1="422.5" y1="450.567" x2="429.5" y2="450.567" stroke="#2a2aa8" stroke-width="1.1"/>
<line x1="422.5" y1="454.173" x2="429.5" y2="454.173" stroke="#2a2aa8" stroke-width="1.1"/>
<ellipse cx="426" cy="452.37" rx="4.8" ry="4.0" fill="#1010e0"/>
<line x1="459.7" y1="453.6321" x2="459.7" y2="457.2381" stroke="#2a2aa8" stroke-width="1.1"/>
<line x1="456.2" y1="453.6321" x2="463.2" y2="453.6321" stroke="#2a2aa8" stroke-width="1.1"/>
<line x1="456.2" y1="457.2381" x2="463.2" y2="457.2381" stroke="#2a2aa8" stroke-width="1.1"/>
<ellipse cx="459.7" cy="455.4351" rx="4.8" ry="4.0" fill="#1010e0"/>
<text x="0" y="551.25" font-size="25.5" text-anchor="start" font-weight="bold" fill="#000" >E</text>
<line x1="37.5" y1="561.9" x2="37.5" y2="675.7" stroke="#262626" stroke-width="1.25"/>
<line x1="37.5" y1="675.7" x2="127" y2="675.7" stroke="#262626" stroke-width="1.25"/>
<line x1="35.5" y1="675.7" x2="37.5" y2="675.7" stroke="#262626" stroke-width="1.25"/>
<text x="35.8" y="679.1" font-size="9.5" text-anchor="end" stroke="#333" stroke-width="0.2" fill="#333" textLength="4.6" lengthAdjust="spacingAndGlyphs" >0</text>
<line x1="35.5" y1="652.94" x2="37.5" y2="652.94" stroke="#262626" stroke-width="1.25"/>
<text x="35.8" y="656.34" font-size="9.5" text-anchor="end" stroke="#333" stroke-width="0.2" fill="#333" textLength="4.6" lengthAdjust="spacingAndGlyphs" >2</text>
<line x1="35.5" y1="630.1800000000001" x2="37.5" y2="630.1800000000001" stroke="#262626" stroke-width="1.25"/>
<text x="35.8" y="633.58" font-size="9.5" text-anchor="end" stroke="#333" stroke-width="0.2" fill="#333" textLength="4.6" lengthAdjust="spacingAndGlyphs" >4</text>
<line x1="35.5" y1="607.4200000000001" x2="37.5" y2="607.4200000000001" stroke="#262626" stroke-width="1.25"/>
<text x="35.8" y="610.82" font-size="9.5" text-anchor="end" stroke="#333" stroke-width="0.2" fill="#333" textLength="4.6" lengthAdjust="spacingAndGlyphs" >6</text>
<line x1="35.5" y1="584.6600000000001" x2="37.5" y2="584.6600000000001" stroke="#262626" stroke-width="1.25"/>
<text x="35.8" y="588.0600000000001" font-size="9.5" text-anchor="end" stroke="#333" stroke-width="0.2" fill="#333" textLength="4.6" lengthAdjust="spacingAndGlyphs" >8</text>
<line x1="35.5" y1="561.9000000000001" x2="37.5" y2="561.9000000000001" stroke="#262626" stroke-width="1.25"/>
<text x="35.8" y="565.3000000000001" font-size="9.5" text-anchor="end" stroke="#333" stroke-width="0.2" fill="#333" textLength="8.8" lengthAdjust="spacingAndGlyphs" >10</text>
<rect x="43" y="584.6600000000001" width="19.3" height="91.04" fill="#a0a0a2" />
<rect x="72.3" y="652.94" width="20" height="22.76" fill="#0a0af0" />
<rect x="102" y="664.32" width="20.3" height="11.38" fill="#0a0af0" />
<text x="0" y="0" font-size="15.5" text-anchor="middle" stroke="#111" stroke-width="0.18" fill="#111" textLength="57.7" lengthAdjust="spacingAndGlyphs" transform="translate(23,624) scale(1.05,1) rotate(-90)" >colonies</text>
<text x="0" y="0" font-size="16" text-anchor="end" stroke="#111" stroke-width="0.18" fill="#111" textLength="43.5" lengthAdjust="spacingAndGlyphs" transform="translate(61.8,687) rotate(-45)" >control</text>
<text x="0" y="0" font-size="16" text-anchor="end" stroke="#111" stroke-width="0.18" fill="#111" textLength="66" lengthAdjust="spacingAndGlyphs" transform="translate(91,686.5) rotate(-45)" >shSAE2 #1</text>
<text x="0" y="0" font-size="16" text-anchor="end" stroke="#111" stroke-width="0.18" fill="#111" textLength="66" lengthAdjust="spacingAndGlyphs" transform="translate(118.7,686.5) rotate(-45)" >shSAE2 #2</text>
<text x="178.1" y="551" font-size="25.5" text-anchor="start" font-weight="bold" fill="#000" >F</text>
<rect x="239.7" y="536.5" width="14.8" height="9.9" fill="#e0301e" />
<rect x="239.7" y="554.3" width="14.8" height="10.1" fill="#6cc070" />
<text x="257.2" y="545.4" font-size="14.5" text-anchor="start" stroke="#111" stroke-width="0.18" fill="#111" textLength="47.5" lengthAdjust="spacingAndGlyphs" >control</text>
<text x="257.2" y="563" font-size="14.5" text-anchor="start" stroke="#111" stroke-width="0.18" fill="#111" textLength="28.5" lengthAdjust="spacingAndGlyphs" >Dox</text>
<text x="233" y="598.7" font-size="14.5" text-anchor="middle" stroke="#111" stroke-width="0.18" fill="#111" >d4</text>
<text x="312" y="597.7" font-size="14.5" text-anchor="middle" stroke="#111" stroke-width="0.18" fill="#111" >d8</text>
<polyline points="229.5,664.5 231,642 232.4,610 233.6,632 235,651 238,655 242,657.5 245,658.5 247,656 249,654.5 250.5,656 252,661 253.5,664.5" fill="none" stroke="#b08a68" stroke-width="0.9" stroke-linejoin="round"/>
<polyline points="229.5,664.5 231,640 232.4,608 233.6,630 235,650 238,654 242,656 245,657.5 247,654 249,648.5 250.5,652 252,660 253.5,664.5 277,664.5" fill="none" stroke="#96d27e" stroke-width="0.9" stroke-linejoin="round"/>
<polyline points="214.6,664.5 215,660 215.6,664.5" fill="none" stroke="#a08060" stroke-width="0.9" stroke-linejoin="round"/>
<rect x="214.4" y="600.6" width="62.900000000000006" height="64.10000000000002" fill="none" stroke="#a8a8a8" stroke-width="0.9"/>
<text x="212.4" y="666.0" font-size="3.6" text-anchor="end" fill="#777">0</text>
<text x="212.4" y="653.18" font-size="3.6" text-anchor="end" fill="#777">20</text>
<text x="212.4" y="640.36" font-size="3.6" text-anchor="end" fill="#777">40</text>
<text x="212.4" y="627.54" font-size="3.6" text-anchor="end" fill="#777">60</text>
<text x="212.4" y="614.72" font-size="3.6" text-anchor="end" fill="#777">80</text>
<text x="212.4" y="601.9" font-size="3.6" text-anchor="end" fill="#777">100</text>
<text x="214.4" y="669.2" font-size="3.4" text-anchor="middle" fill="#777">0</text>
<text x="234.05625" y="669.2" font-size="3.4" text-anchor="middle" fill="#777">10000</text>
<text x="253.7125" y="669.2" font-size="3.4" text-anchor="middle" fill="#777">20000</text>
<text x="273.36875" y="669.2" font-size="3.4" text-anchor="middle" fill="#777">30000</text>
<polyline points="309.5,664.5 311.5,647 313.6,608 315,632 316.5,653 319,657 321.5,658.5 326,657.5 330,656 333,654.1 334.2,658 335.5,664.5" fill="none" stroke="#b08a68" stroke-width="0.9" stroke-linejoin="round"/>
<polyline points="309.5,664.5 311.5,645 313.6,606.5 315,630 316.5,652 319,656 321.5,657 326,656 330,653 332,646 333,642.6 334,650 335.2,660 338,662 345,663 356,664" fill="none" stroke="#96d27e" stroke-width="0.9" stroke-linejoin="round"/>
<polyline points="293.3,664.5 293.8,659.5 294.4,664.5" fill="none" stroke="#a08060" stroke-width="0.9" stroke-linejoin="round"/>
<rect x="292.9" y="600.8" width="63.200000000000045" height="63.90000000000009" fill="none" stroke="#a8a8a8" stroke-width="0.9"/>
<text x="290.9" y="666.0" font-size="3.6" text-anchor="end" fill="#777">0</text>
<text x="290.9" y="653.22" font-size="3.6" text-anchor="end" fill="#777">20</text>
<text x="290.9" y="640.4399999999999" font-size="3.6" text-anchor="end" fill="#777">40</text>
<text x="290.9" y="627.66" font-size="3.6" text-anchor="end" fill="#777">60</text>
<text x="290.9" y="614.8799999999999" font-size="3.6" text-anchor="end" fill="#777">80</text>
<text x="290.9" y="602.0999999999999" font-size="3.6" text-anchor="end" fill="#777">100</text>
<text x="292.9" y="669.2" font-size="3.4" text-anchor="middle" fill="#777">0</text>
<text x="312.65" y="669.2" font-size="3.4" text-anchor="middle" fill="#777">10000</text>
<text x="332.4" y="669.2" font-size="3.4" text-anchor="middle" fill="#777">20000</text>
<text x="352.15000000000003" y="669.2" font-size="3.4" text-anchor="middle" fill="#777">30000</text>
<polyline points="229.8,742.5 231.3,717 232.7,683.5 234,712 235.3,733 240,736.5 245,737.5 249,736.5 251,734.7 253,738 254.8,742.5" fill="none" stroke="#b08a68" stroke-width="0.9" stroke-linejoin="round"/>
<polyline points="229.8,742.5 231.3,715 232.7,681.4 234,710 235.3,732.6 240,736 245,737 248,734 250,724 250.9,719.6 252,726 253.5,736 254.8,742 262,742.5 277,742.5" fill="none" stroke="#96d27e" stroke-width="0.9" stroke-linejoin="round"/>
<polyline points="214,742.5 214.5,735.5 215.2,742.5" fill="none" stroke="#c05040" stroke-width="0.9" stroke-linejoin="round"/>
<rect x="213.7" y="676.6" width="63.400000000000034" height="66.39999999999998" fill="none" stroke="#a8a8a8" stroke-width="0.9"/>
<text x="211.7" y="744.3" font-size="3.6" text-anchor="end" fill="#777">0</text>
<text x="211.7" y="731.02" font-size="3.6" text-anchor="end" fill="#777">20</text>
<text x="211.7" y="717.74" font-size="3.6" text-anchor="end" fill="#777">40</text>
<text x="211.7" y="704.4599999999999" font-size="3.6" text-anchor="end" fill="#777">60</text>
<text x="211.7" y="691.18" font-size="3.6" text-anchor="end" fill="#777">80</text>
<text x="211.7" y="677.9" font-size="3.6" text-anchor="end" fill="#777">100</text>
<text x="213.7" y="747.5" font-size="3.4" text-anchor="middle" fill="#777">0</text>
<text x="233.5125" y="747.5" font-size="3.4" text-anchor="middle" fill="#777">10000</text>
<text x="253.32500000000002" y="747.5" font-size="3.4" text-anchor="middle" fill="#777">20000</text>
<text x="273.13750000000005" y="747.5" font-size="3.4" text-anchor="middle" fill="#777">30000</text>
<polyline points="306,742.5 308,741 310.5,728 312.5,702 313.6,690 314.8,705 316,725 317.2,734.5 322,736.5 325,735 326.5,731 328,735 331,725 333,711 334.5,722 336,738 340,740 345,739 350,740.5 356,739.5" fill="none" stroke="#96d27e" stroke-width="0.9" stroke-linejoin="round"/>
<polyline points="306,742.5 308,741 310.5,725 312.5,698 313.6,685.7 314.8,700 316,722 317.2,734 322,736 327,736.5 331,734 333,731 334.5,736 336,741 340,742.5" fill="none" stroke="#b08a68" stroke-width="0.9" stroke-linejoin="round"/>
<polyline points="293,742.5 293.5,729 294.2,742.5" fill="none" stroke="#a08060" stroke-width="0.9" stroke-linejoin="round"/>
<rect x="292.7" y="676.6" width="63.400000000000034" height="66.39999999999998" fill="none" stroke="#a8a8a8" stroke-width="0.9"/>
<text x="290.7" y="744.3" font-size="3.6" text-anchor="end" fill="#777">0</text>
<text x="290.7" y="731.02" font-size="3.6" text-anchor="end" fill="#777">20</text>
<text x="290.7" y="717.74" font-size="3.6" text-anchor="end" fill="#777">40</text>
<text x="290.7" y="704.4599999999999" font-size="3.6" text-anchor="end" fill="#777">60</text>
<text x="290.7" y="691.18" font-size="3.6" text-anchor="end" fill="#777">80</text>
<text x="290.7" y="677.9" font-size="3.6" text-anchor="end" fill="#777">100</text>
<text x="292.7" y="747.5" font-size="3.4" text-anchor="middle" fill="#777">0</text>
<text x="312.5125" y="747.5" font-size="3.4" text-anchor="middle" fill="#777">10000</text>
<text x="332.325" y="747.5" font-size="3.4" text-anchor="middle" fill="#777">20000</text>
<text x="352.13750000000005" y="747.5" font-size="3.4" text-anchor="middle" fill="#777">30000</text>
<text x="0" y="0" font-size="17" text-anchor="middle" stroke="#111" stroke-width="0.18" fill="#111" textLength="51" lengthAdjust="spacingAndGlyphs" transform="translate(203,668.5) rotate(-90)" >counts</text>
<line x1="211.7" y1="753.2" x2="358.4" y2="753.2" stroke="#000" stroke-width="2"/>
<polygon points="357.4,748.2 370.4,753.2 357.4,758.2" fill="#000"/>
<text x="292.5" y="771.4" font-size="16.5" text-anchor="middle" stroke="#111" stroke-width="0.18" fill="#111" textLength="39" lengthAdjust="spacingAndGlyphs" >DAPI</text>
<text x="0" y="0" font-size="16.5" text-anchor="end" stroke="#111" stroke-width="0.18" fill="#111" textLength="52" lengthAdjust="spacingAndGlyphs" transform="translate(409,613) rotate(-40.5)" >sh<tspan font-style="italic">SAE1</tspan></text>
<text x="0" y="0" font-size="16.5" text-anchor="end" stroke="#111" stroke-width="0.18" fill="#111" textLength="52" lengthAdjust="spacingAndGlyphs" transform="translate(409.7,691) rotate(-40.5)" >sh<tspan font-style="italic">SAE2</tspan></text>
<text x="0.5" y="809" font-size="25.5" text-anchor="start" font-weight="bold" fill="#000" >G</text>
<line x1="46.25" y1="798.75" x2="46.25" y2="905.5" stroke="#262626" stroke-width="1.3"/>
<line x1="46.25" y1="905.5" x2="125" y2="905.5" stroke="#262626" stroke-width="1.3"/>
<line x1="43.25" y1="905.5" x2="46.25" y2="905.5" stroke="#262626" stroke-width="1.25"/>
<text x="44.05" y="909.28" font-size="10.5" text-anchor="end" font-weight="bold" fill="#222" textLength="4.78716" lengthAdjust="spacingAndGlyphs" >0</text>
<line x1="43.25" y1="878.8125" x2="46.25" y2="878.8125" stroke="#262626" stroke-width="1.25"/>
<text x="44.05" y="882.5925" font-size="10.5" text-anchor="end" font-weight="bold" fill="#222" textLength="9.57432" lengthAdjust="spacingAndGlyphs" >10</text>
<line x1="43.25" y1="852.125" x2="46.25" y2="852.125" stroke="#262626" stroke-width="1.25"/>
<text x="44.05" y="855.905" font-size="10.5" text-anchor="end" font-weight="bold" fill="#222" textLength="9.57432" lengthAdjust="spacingAndGlyphs" >20</text>
<line x1="43.25" y1="825.4375" x2="46.25" y2="825.4375" stroke="#262626" stroke-width="1.25"/>
<text x="44.05" y="829.2175" font-size="10.5" text-anchor="end" font-weight="bold" fill="#222" textLength="9.57432" lengthAdjust="spacingAndGlyphs" >30</text>
<line x1="43.25" y1="798.75" x2="46.25" y2="798.75" stroke="#262626" stroke-width="1.25"/>
<text x="44.05" y="802.53" font-size="10.5" text-anchor="end" font-weight="bold" fill="#222" textLength="9.57432" lengthAdjust="spacingAndGlyphs" >40</text>
<rect x="51.25" y="855.594375" width="15.75" height="49.905624999999986" fill="#a2a1a6" />
<rect x="67" y="832.643125" width="16.25" height="72.85687499999995" fill="#6cc030" />
<line x1="75.125" y1="828.906875" x2="75.125" y2="832.643125" stroke="#6cc030" stroke-width="1.2"/>
<line x1="71.625" y1="828.906875" x2="78.625" y2="828.906875" stroke="#6cc030" stroke-width="1.2"/>
<rect x="92" y="870.005625" width="15" height="35.49437499999999" fill="#a2a1a6" />
<line x1="99.5" y1="868.1375" x2="99.5" y2="870.005625" stroke="#a2a1a6" stroke-width="1.2"/>
<line x1="96.0" y1="868.1375" x2="103.0" y2="868.1375" stroke="#a2a1a6" stroke-width="1.2"/>
<rect x="107" y="843.851875" width="16" height="61.64812500000005" fill="#6cc030" />
<line x1="115.0" y1="839.84875" x2="115.0" y2="843.851875" stroke="#6cc030" stroke-width="1.2"/>
<line x1="111.5" y1="839.84875" x2="118.5" y2="839.84875" stroke="#6cc030" stroke-width="1.2"/>
<text x="65.4" y="828.2" font-size="16" text-anchor="middle" font-weight="bold" fill="#111" >*</text>
<text x="103" y="828.2" font-size="16" text-anchor="middle" font-weight="bold" fill="#111" >*</text>
<text x="66" y="923" font-size="14.5" text-anchor="middle" stroke="#111" stroke-width="0.18" fill="#111" textLength="17.5" lengthAdjust="spacingAndGlyphs" >d4</text>
<text x="106.4" y="923" font-size="14.5" text-anchor="middle" stroke="#111" stroke-width="0.18" fill="#111" textLength="17.5" lengthAdjust="spacingAndGlyphs" >d8</text>
<line x1="154.25" y1="798.25" x2="154.25" y2="905" stroke="#262626" stroke-width="1.3"/>
<line x1="154.25" y1="905" x2="232.5" y2="905" stroke="#262626" stroke-width="1.3"/>
<line x1="151.25" y1="905.0" x2="154.25" y2="905.0" stroke="#262626" stroke-width="1.25"/>
<text x="152.05" y="908.78" font-size="10.5" text-anchor="end" font-weight="bold" fill="#222" textLength="4.78716" lengthAdjust="spacingAndGlyphs" >0</text>
<line x1="151.25" y1="878.3125" x2="154.25" y2="878.3125" stroke="#262626" stroke-width="1.25"/>
<text x="152.05" y="882.0925" font-size="10.5" text-anchor="end" font-weight="bold" fill="#222" textLength="9.57432" lengthAdjust="spacingAndGlyphs" >10</text>
<line x1="151.25" y1="851.625" x2="154.25" y2="851.625" stroke="#262626" stroke-width="1.25"/>
<text x="152.05" y="855.405" font-size="10.5" text-anchor="end" font-weight="bold" fill="#222" textLength="9.57432" lengthAdjust="spacingAndGlyphs" >20</text>
<line x1="151.25" y1="824.9375" x2="154.25" y2="824.9375" stroke="#262626" stroke-width="1.25"/>
<text x="152.05" y="828.7175" font-size="10.5" text-anchor="end" font-weight="bold" fill="#222" textLength="9.57432" lengthAdjust="spacingAndGlyphs" >30</text>
<line x1="151.25" y1="798.25" x2="154.25" y2="798.25" stroke="#262626" stroke-width="1.25"/>
<text x="152.05" y="802.03" font-size="10.5" text-anchor="end" font-weight="bold" fill="#222" textLength="9.57432" lengthAdjust="spacingAndGlyphs" >40</text>
<rect x="158" y="858.830625" width="15.75" height="46.169374999999945" fill="#a2a1a6" />
<line x1="165.875" y1="852.959375" x2="165.875" y2="858.830625" stroke="#a2a1a6" stroke-width="1.2"/>
<line x1="162.375" y1="852.959375" x2="169.375" y2="852.959375" stroke="#a2a1a6" stroke-width="1.2"/>
<rect x="173.75" y="830.80875" width="16.25" height="74.19124999999997" fill="#0404f4" />
<line x1="181.875" y1="828.406875" x2="181.875" y2="830.80875" stroke="#0404f4" stroke-width="1.2"/>
<line x1="178.375" y1="828.406875" x2="185.375" y2="828.406875" stroke="#0404f4" stroke-width="1.2"/>
<rect x="197.5" y="852.959375" width="15.75" height="52.04062499999998" fill="#a2a1a6" />
<line x1="205.375" y1="850.5575" x2="205.375" y2="852.959375" stroke="#a2a1a6" stroke-width="1.2"/>
<line x1="201.875" y1="850.5575" x2="208.875" y2="850.5575" stroke="#a2a1a6" stroke-width="1.2"/>
<rect x="213.25" y="817.465" width="16.25" height="87.53499999999997" fill="#0404f4" />
<line x1="221.375" y1="812.928125" x2="221.375" y2="817.465" stroke="#0404f4" stroke-width="1.2"/>
<line x1="217.875" y1="812.928125" x2="224.875" y2="812.928125" stroke="#0404f4" stroke-width="1.2"/>
<text x="174.4" y="815" font-size="16" text-anchor="middle" font-weight="bold" fill="#111" >*</text>
<text x="212.1" y="815" font-size="16" text-anchor="middle" font-weight="bold" fill="#111" >*</text>
<text x="174.5" y="923" font-size="14.5" text-anchor="middle" stroke="#111" stroke-width="0.18" fill="#111" textLength="17.5" lengthAdjust="spacingAndGlyphs" >d4</text>
<text x="215" y="923" font-size="14.5" text-anchor="middle" stroke="#111" stroke-width="0.18" fill="#111" textLength="17.5" lengthAdjust="spacingAndGlyphs" >d8</text>
<text x="0" y="0" font-size="16" text-anchor="middle" stroke="#222" stroke-width="0.18" fill="#222" transform="translate(31,859) rotate(-90)" >% G2M</text>
<rect x="239.25" y="848" width="14" height="10" fill="#aaaaaa" />
<rect x="239.25" y="866.25" width="14" height="9.25" fill="#5cb85c" />
<rect x="239.25" y="882.5" width="14" height="9.5" fill="#2030f0" />
<text x="256.75" y="857" font-size="15" text-anchor="start" stroke="#111" stroke-width="0.18" fill="#111" textLength="45.5" lengthAdjust="spacingAndGlyphs" >control</text>
<text x="256.75" y="875" font-size="15" text-anchor="start" stroke="#111" stroke-width="0.18" fill="#111" textLength="74" lengthAdjust="spacingAndGlyphs" >Dox sh<tspan font-style="italic">SAE1</tspan></text>
<text x="256.75" y="891.25" font-size="15" text-anchor="start" stroke="#111" stroke-width="0.18" fill="#111" textLength="74" lengthAdjust="spacingAndGlyphs" >Dox sh<tspan font-style="italic">SAE2</tspan></text>
<text x="0" y="958" font-size="25.5" text-anchor="start" font-weight="bold" fill="#000" >H</text>
<line x1="45" y1="971.25" x2="45" y2="1067" stroke="#262626" stroke-width="1.3"/>
<line x1="45" y1="1067" x2="123.75" y2="1067" stroke="#262626" stroke-width="1.3"/>
<line x1="42" y1="1067.0" x2="45" y2="1067.0" stroke="#262626" stroke-width="1.25"/>
<text x="42.8" y="1070.24" font-size="9" text-anchor="end" font-weight="bold" fill="#222" >0</text>
<line x1="42" y1="1047.85" x2="45" y2="1047.85" stroke="#262626" stroke-width="1.25"/>
<text x="42.8" y="1051.09" font-size="9" text-anchor="end" font-weight="bold" fill="#222" >2</text>
<line x1="42" y1="1028.7" x2="45" y2="1028.7" stroke="#262626" stroke-width="1.25"/>
<text x="42.8" y="1031.94" font-size="9" text-anchor="end" font-weight="bold" fill="#222" >4</text>
<line x1="42" y1="1009.55" x2="45" y2="1009.55" stroke="#262626" stroke-width="1.25"/>
<text x="42.8" y="1012.79" font-size="9" text-anchor="end" font-weight="bold" fill="#222" >6</text>
<line x1="42" y1="990.4" x2="45" y2="990.4" stroke="#262626" stroke-width="1.25"/>
<text x="42.8" y="993.64" font-size="9" text-anchor="end" font-weight="bold" fill="#222" >8</text>
<line x1="42" y1="971.25" x2="45" y2="971.25" stroke="#262626" stroke-width="1.25"/>
<text x="42.8" y="974.49" font-size="9" text-anchor="end" font-weight="bold" fill="#222" >10</text>
<rect x="50" y="1056.4675" width="14.5" height="10.532500000000027" fill="#a2a1a6" />
<rect x="64.5" y="1038.275" width="16.75" height="28.72499999999991" fill="#6cc030" />
<rect x="88.75" y="1051.68" width="14.5" height="15.319999999999936" fill="#a2a1a6" />
<rect x="103.25" y="981.7825" width="16.25" height="85.21749999999997" fill="#6cc030" />
<line x1="111.375" y1="976.995" x2="111.375" y2="981.7825" stroke="#6cc030" stroke-width="1.2"/>
<line x1="107.875" y1="976.995" x2="114.875" y2="976.995" stroke="#6cc030" stroke-width="1.2"/>
<text x="65.2" y="977.8" font-size="16" text-anchor="middle" font-weight="bold" fill="#111" >*</text>
<text x="103.3" y="977.8" font-size="16" text-anchor="middle" font-weight="bold" fill="#111" >*</text>
<text x="65.5" y="1085" font-size="14.5" text-anchor="middle" stroke="#111" stroke-width="0.18" fill="#111" textLength="17.5" lengthAdjust="spacingAndGlyphs" >d4</text>
<text x="105" y="1085" font-size="14.5" text-anchor="middle" stroke="#111" stroke-width="0.18" fill="#111" textLength="17.5" lengthAdjust="spacingAndGlyphs" >d8</text>
<line x1="154.5" y1="971.25" x2="154.5" y2="1066.25" stroke="#262626" stroke-width="1.3"/>
<line x1="154.5" y1="1066.25" x2="231.25" y2="1066.25" stroke="#262626" stroke-width="1.3"/>
<line x1="151.5" y1="1066.25" x2="154.5" y2="1066.25" stroke="#262626" stroke-width="1.25"/>
<text x="152.3" y="1069.49" font-size="9" text-anchor="end" font-weight="bold" fill="#222" >0</text>
<line x1="151.5" y1="1034.5833333333333" x2="154.5" y2="1034.5833333333333" stroke="#262626" stroke-width="1.25"/>
<text x="152.3" y="1037.8233333333333" font-size="9" text-anchor="end" font-weight="bold" fill="#222" >5</text>
<line x1="151.5" y1="1002.9166666666666" x2="154.5" y2="1002.9166666666666" stroke="#262626" stroke-width="1.25"/>
<text x="152.3" y="1006.1566666666666" font-size="9" text-anchor="end" font-weight="bold" fill="#222" >10</text>
<line x1="151.5" y1="971.25" x2="154.5" y2="971.25" stroke="#262626" stroke-width="1.25"/>
<text x="152.3" y="974.49" font-size="9" text-anchor="end" font-weight="bold" fill="#222" >15</text>
<rect x="158.75" y="1058.0166666666667" width="15.75" height="8.233333333333348" fill="#a2a1a6" />
<rect x="174.5" y="1036.4833333333333" width="15.5" height="29.76666666666665" fill="#0404f4" />
<line x1="182.25" y1="1033.3166666666666" x2="182.25" y2="1036.4833333333333" stroke="#0404f4" stroke-width="1.2"/>
<line x1="178.75" y1="1033.3166666666666" x2="185.75" y2="1033.3166666666666" stroke="#0404f4" stroke-width="1.2"/>
<rect x="197.5" y="1054.5333333333333" width="15.0" height="11.716666666666697" fill="#a2a1a6" />
<rect x="212.5" y="990.25" width="15.75" height="76.0" fill="#0404f4" />
<line x1="220.375" y1="981.3833333333333" x2="220.375" y2="990.25" stroke="#0404f4" stroke-width="1.2"/>
<line x1="216.875" y1="981.3833333333333" x2="223.875" y2="981.3833333333333" stroke="#0404f4" stroke-width="1.2"/>
<text x="171.3" y="980.9" font-size="16" text-anchor="middle" font-weight="bold" fill="#111" >*</text>
<text x="208.8" y="980.9" font-size="16" text-anchor="middle" font-weight="bold" fill="#111" >*</text>
<text x="174.5" y="1085" font-size="14.5" text-anchor="middle" stroke="#111" stroke-width="0.18" fill="#111" textLength="17.5" lengthAdjust="spacingAndGlyphs" >d4</text>
<text x="215" y="1085" font-size="14.5" text-anchor="middle" stroke="#111" stroke-width="0.18" fill="#111" textLength="17.5" lengthAdjust="spacingAndGlyphs" >d8</text>
<text x="0" y="0" font-size="16" text-anchor="middle" stroke="#222" stroke-width="0.18" fill="#222" textLength="80" lengthAdjust="spacingAndGlyphs" transform="translate(30.8,1028.8) scale(1.08,1) rotate(-90)" >% polyploid</text>
<rect x="239.25" y="995.5" width="14" height="9.5" fill="#aaaaaa" />
<rect x="239.25" y="1013.75" width="14" height="9.25" fill="#5cb85c" />
<rect x="239.25" y="1030" width="14" height="9.5" fill="#2030f0" />
<text x="256.75" y="1004.5" font-size="15" text-anchor="start" stroke="#111" stroke-width="0.18" fill="#111" textLength="45.5" lengthAdjust="spacingAndGlyphs" >control</text>
<text x="256.75" y="1022" font-size="15" text-anchor="start" stroke="#111" stroke-width="0.18" fill="#111" textLength="74" lengthAdjust="spacingAndGlyphs" >Dox sh<tspan font-style="italic">SAE1</tspan></text>
<text x="256.75" y="1038.75" font-size="15" text-anchor="start" stroke="#111" stroke-width="0.18" fill="#111" textLength="74" lengthAdjust="spacingAndGlyphs" >Dox sh<tspan font-style="italic">SAE2</tspan></text>
<text x="392.2" y="809" font-size="25.5" text-anchor="start" font-weight="bold" fill="#000" >I</text>
<line x1="439.6" y1="814" x2="439.6" y2="921.5" stroke="#262626" stroke-width="1.3"/>
<line x1="439.6" y1="921.5" x2="517.5" y2="921.5" stroke="#262626" stroke-width="1.3"/>
<line x1="436.6" y1="921.5" x2="439.6" y2="921.5" stroke="#262626" stroke-width="1.25"/>
<text x="437.40000000000003" y="925.388" font-size="10.8" text-anchor="end" font-weight="bold" fill="#222" textLength="4.803840000000001" lengthAdjust="spacingAndGlyphs" >0</text>
<line x1="436.6" y1="885.6666666666666" x2="439.6" y2="885.6666666666666" stroke="#262626" stroke-width="1.25"/>
<text x="437.40000000000003" y="889.5546666666667" font-size="10.8" text-anchor="end" font-weight="bold" fill="#222" textLength="4.803840000000001" lengthAdjust="spacingAndGlyphs" >5</text>
<line x1="436.6" y1="849.8333333333334" x2="439.6" y2="849.8333333333334" stroke="#262626" stroke-width="1.25"/>
<text x="437.40000000000003" y="853.7213333333334" font-size="10.8" text-anchor="end" font-weight="bold" fill="#222" textLength="9.607680000000002" lengthAdjust="spacingAndGlyphs" >10</text>
<line x1="436.6" y1="814.0" x2="439.6" y2="814.0" stroke="#262626" stroke-width="1.25"/>
<text x="437.40000000000003" y="817.888" font-size="10.8" text-anchor="end" font-weight="bold" fill="#222" textLength="9.607680000000002" lengthAdjust="spacingAndGlyphs" >15</text>
<rect x="443.6" y="915.05" width="15.199999999999989" height="6.4500000000000455" fill="#a2a1a6" />
<rect x="458.8" y="887.8166666666666" width="16.5" height="33.683333333333394" fill="#6cc030" />
<rect x="482.5" y="912.9" width="15.899999999999977" height="8.600000000000023" fill="#a2a1a6" />
<rect x="498.4" y="832.6333333333333" width="15.800000000000068" height="88.86666666666667" fill="#0404f4" />
<line x1="506.3" y1="827.975" x2="506.3" y2="832.6333333333333" stroke="#0404f4" stroke-width="1.2"/>
<line x1="502.8" y1="827.975" x2="509.8" y2="827.975" stroke="#0404f4" stroke-width="1.2"/>
<text x="461.3" y="823.6" font-size="16" text-anchor="middle" font-weight="bold" fill="#111" >*</text>
<text x="499.4" y="823.6" font-size="16" text-anchor="middle" font-weight="bold" fill="#111" >*</text>
<text x="481" y="938" font-size="14.5" text-anchor="middle" stroke="#111" stroke-width="0.18" fill="#111" textLength="17.5" lengthAdjust="spacingAndGlyphs" >d8</text>
<text x="0" y="0" font-size="16" text-anchor="middle" stroke="#222" stroke-width="0.18" fill="#222" textLength="105" lengthAdjust="spacingAndGlyphs" transform="translate(424.5,873) rotate(-90)" >% SSlowFSlow</text>
<rect x="414.2" y="962" width="14" height="9.799999999999955" fill="#aaaaaa" />
<rect x="414.2" y="979.8" width="14" height="10.0" fill="#5cb85c" />
<rect x="414.2" y="995.7" width="14" height="9.699999999999932" fill="#2030f0" />
<text x="431.7" y="970.2" font-size="15" text-anchor="start" stroke="#111" stroke-width="0.18" fill="#111" textLength="45.5" lengthAdjust="spacingAndGlyphs" >control</text>
<text x="431.7" y="988.5" font-size="15" text-anchor="start" stroke="#111" stroke-width="0.18" fill="#111" textLength="74" lengthAdjust="spacingAndGlyphs" >Dox sh<tspan font-style="italic">SAE1</tspan></text>
<text x="431.7" y="1005.4" font-size="15" text-anchor="start" stroke="#111" stroke-width="0.18" fill="#111" textLength="74" lengthAdjust="spacingAndGlyphs" >Dox sh<tspan font-style="italic">SAE2</tspan></text>
</svg>
</body></html>
